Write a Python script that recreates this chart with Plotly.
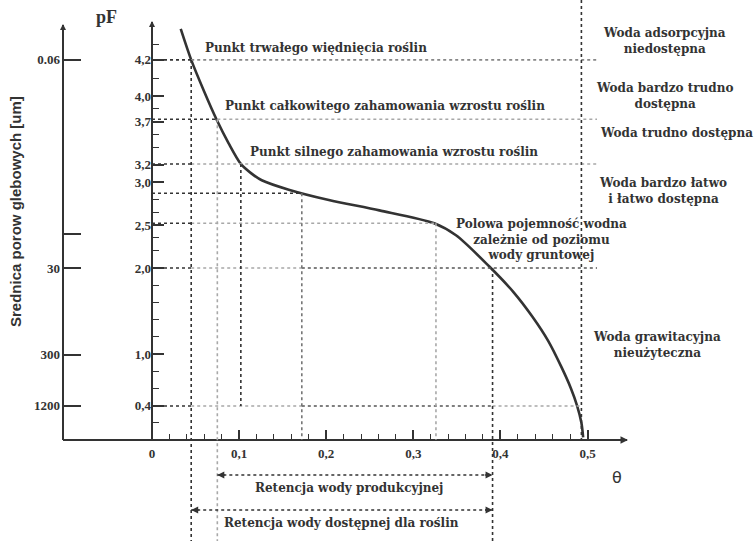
import plotly.graph_objects as go

# ---------------- data ----------------
# retention curve: theta (volumetric water content) vs pF (linear scale of picture)
curve_theta = [0.033, 0.045, 0.060, 0.074, 0.088, 0.102, 0.114, 0.126, 0.157, 0.203,
               0.261, 0.324, 0.349, 0.387, 0.415, 0.437, 0.455, 0.470, 0.481, 0.488, 0.493, 0.495]
curve_pf = [4.78, 4.42, 4.05, 3.73, 3.45, 3.21, 3.10, 3.02, 2.91, 2.79,
            2.67, 2.52, 2.38, 2.02, 1.72, 1.43, 1.15, 0.85, 0.60, 0.40, 0.20, 0.03]

# pF axis ticks
pf_tick_vals = [0.4, 1.0, 2.0, 2.5, 3.0, 3.2, 3.7, 4.0, 4.42]
pf_tick_text = ["0,4", "1,0", "2,0", "2,5", "3,0", "3,2", "3,7", "4,0", "4,2"]
pf_minor = [0.2, 0.6, 0.8, 1.2, 1.4, 1.6, 1.8, 2.2, 2.35, 2.65, 2.8, 3.4, 3.55, 3.85, 4.2, 4.6]

# pore diameter axis ticks
pore_tick_vals = [4.42, 2.40, 2.0, 0.99, 0.4]
pore_tick_text = ["0.06", "", "30", "300", "1200"]

# theta axis ticks
theta_tick_vals = [0, 0.1, 0.2, 0.3, 0.4, 0.5]
theta_tick_text = ["0", "0,1", "0,2", "0,3", "0,4", "0,5"]
theta_minor = [0.02, 0.04, 0.06, 0.08, 0.12, 0.14, 0.16, 0.18, 0.22, 0.24, 0.26, 0.28,
               0.32, 0.34, 0.36, 0.38, 0.42, 0.44, 0.46, 0.48]

# characteristic levels (pF) and water contents (theta)
pf_wilt, pf_total, pf_strong, pf_bend, pf_field, pf_fc, pf_low = 4.42, 3.73, 3.21, 2.87, 2.52, 2.0, 0.395
th_wilt, th_total, th_strong, th_bend, th_field, th_fc, th_sat = 0.045, 0.075, 0.102, 0.172, 0.326, 0.391, 0.493

# ---------------- geometry helpers (pixel -> axis/paper) ----------------
W, H = 754, 541
X0, XS = 152, 871       # px of theta=0, px per unit theta
Y0, YS = 440, 86        # px of pF=0, px per unit pF


def tx(px):
    return (px - X0) / XS


def ty(py):
    return (Y0 - py) / YS


def paper_x(px):
    return px / W


def paper_y(py):
    return (H - py) / H


INK = "#333333"
GRAY = "#a8a8a8"
FONT = "DejaVu Serif"

fig = go.Figure()

fig.add_trace(go.Scatter(x=curve_theta, y=curve_pf, mode="lines",
                         line=dict(color=INK, width=2.6, shape="spline", smoothing=0.8),
                         hoverinfo="skip", showlegend=False))
# dummy trace to activate second y axis
fig.add_trace(go.Scatter(x=[None], y=[None], yaxis="y2", showlegend=False))

shapes = []


def seg(x0, y0, x1, y1, color=INK, dash="3px,3px", width=1.6):
    shapes.append(dict(type="line", xref="x", yref="y", x0=x0, y0=y0, x1=x1, y1=y1,
                       line=dict(color=color, width=width, dash=dash)))


x_left_axis = tx(63)
x_right = tx(597)
y_bottom = ty(541)
y_top = ty(0)

# axis lines
seg(0, 0, 0, ty(22), dash="solid", width=2)
seg(x_left_axis, 0, x_left_axis, ty(25), dash="solid", width=2)
seg(x_left_axis, 0, tx(627), 0, dash="solid", width=2)

# horizontal guide lines
seg(0, pf_wilt, th_wilt, pf_wilt)
seg(th_wilt, pf_wilt, x_right, pf_wilt, color="#888888")
seg(0, pf_total, th_total, pf_total)
seg(th_total, pf_total, x_right, pf_total, color=GRAY)
seg(0, pf_strong, th_wilt, pf_strong)
seg(th_wilt, pf_strong, x_right, pf_strong, color=GRAY)
seg(0, pf_bend, th_bend, pf_bend)
seg(0, pf_field, th_wilt, pf_field)
seg(th_wilt, pf_field, th_field, pf_field, color=GRAY)
seg(0, pf_fc, th_wilt, pf_fc)
seg(th_wilt, pf_fc, th_bend, pf_fc, color=GRAY)
seg(th_bend, pf_fc, x_right, pf_fc, color="#555555")
seg(0, pf_low, th_wilt, pf_low)
seg(th_wilt, pf_low, th_bend, pf_low, color=GRAY)
seg(th_bend, pf_low, th_fc, pf_low, color="#555555")
seg(th_fc, pf_low, th_sat, pf_low, color=GRAY)

# vertical guide lines
seg(th_wilt, pf_wilt, th_wilt, y_bottom)
seg(th_total, pf_total, th_total, y_bottom, color=GRAY)
seg(th_strong, pf_strong, th_strong, pf_low)
seg(th_bend, pf_bend, th_bend, 0, color="#777777")
seg(th_field, pf_field, th_field, 0, color=GRAY)
seg(th_fc, pf_fc, th_fc, y_bottom)
seg(th_sat, y_top, th_sat, 0)

# retention brackets
y_prod = ty(475)
y_avail = ty(510)
seg(th_total, y_prod, th_fc, y_prod)
seg(th_wilt, y_avail, th_fc, y_avail)

annotations = []


def arrow(x, y, ax):
    annotations.append(dict(x=x, y=y, xref="x", yref="y", text="", showarrow=True,
                            ax=ax, ay=0, arrowhead=2, arrowsize=1, arrowwidth=1.4,
                            arrowcolor=INK))


arrow(th_total, y_prod, 9)
arrow(th_fc, y_prod, -9)
arrow(th_wilt, y_avail, 9)
arrow(th_fc, y_avail, -9)
# axis arrowheads
annotations.append(dict(x=tx(628), y=0, xref="x", yref="y", text="", showarrow=True,
                        ax=-8, ay=0, arrowhead=2, arrowsize=1, arrowwidth=1.5, arrowcolor=INK))
annotations.append(dict(x=0, y=ty(21), xref="x", yref="y", text="", showarrow=True,
                        ax=0, ay=7, arrowhead=2, arrowsize=0.8, arrowwidth=1.5, arrowcolor=INK))
annotations.append(dict(x=x_left_axis, y=ty(24), xref="x", yref="y", text="", showarrow=True,
                        ax=0, ay=7, arrowhead=2, arrowsize=0.8, arrowwidth=1.5, arrowcolor=INK))


def label(px, py, text, size=12, xanchor="center", angle=0, color=INK, family=FONT):
    annotations.append(dict(x=paper_x(px), y=paper_y(py), xref="paper", yref="paper",
                            text=text, showarrow=False, xanchor=xanchor, yanchor="middle",
                            align="center", textangle=angle,
                            font=dict(family=family, size=size, color=color)))


label(203, 48, "<b>Punkt trwałego więdnięcia roślin</b>", xanchor="left")
label(223, 106, "<b>Punkt całkowitego zahamowania wzrostu roślin</b>", xanchor="left")
label(248, 152, "<b>Punkt silnego zahamowania wzrostu roślin</b>", xanchor="left")
label(664, 41, "<b>Woda adsorpcyjna<br>niedostępna</b>")
label(664, 96, "<b>Woda bardzo trudno<br>dostępna</b>")
label(676, 133, "<b>Woda trudno dostępna</b>")
label(663, 191, "<b>Woda bardzo łatwo<br>i łatwo dostępna</b>")
label(541, 239, "<b>Polowa pojemność wodna<br>zależnie od poziomu<br>wody gruntowej</b>")
label(657, 345, "<b>Woda grawitacyjna<br>nieużyteczna</b>")
label(349, 488, "<b>Retencja wody produkcyjnej</b>")
label(341, 523, "<b>Retencja wody dostępnej dla roślin</b>")
label(107, 17, "<b>pF</b>", size=18, family="Liberation Serif")
label(617, 477, "θ", size=16, family="DejaVu Sans")
label(16, 212, "<b>Srednica porow glebowych [um]</b>", size=15, angle=-90,
      family="Liberation Sans Narrow, Liberation Sans")

tick_font = dict(family="Liberation Serif", size=13, color=INK)

fig.update_layout(
    width=W, height=H,
    margin=dict(l=0, r=0, t=0, b=0, autoexpand=False),
    paper_bgcolor="white", plot_bgcolor="white",
    showlegend=False,
    shapes=shapes,
    annotations=annotations,
    xaxis=dict(domain=[0, 1], range=[tx(0), tx(W)], anchor="free", position=paper_y(Y0),
               automargin=False,
               showgrid=False, zeroline=False, showline=False,
               tickmode="array", tickvals=theta_tick_vals, ticktext=[f"<b>{t}</b>" for t in theta_tick_text],
               ticks="inside", ticklen=10, tickwidth=1.6, tickcolor=INK,
               tickfont=tick_font, ticklabelstandoff=4,
               minor=dict(tickvals=theta_minor, ticks="inside", ticklen=6, tickwidth=1.4,
                          tickcolor=INK, showgrid=False)),
    yaxis=dict(domain=[0, 1], range=[ty(H), ty(0)], anchor="free", position=paper_x(X0),
               automargin=False,
               side="left", showgrid=False, zeroline=False, showline=False,
               tickmode="array", tickvals=pf_tick_vals, ticktext=[f"<b>{t}</b>" for t in pf_tick_text],
               ticks="inside", ticklen=11, tickwidth=1.8, tickcolor=INK,
               tickfont=tick_font, ticklabelstandoff=1,
               minor=dict(tickvals=pf_minor, ticks="inside", ticklen=6, tickwidth=1.4,
                          tickcolor=INK, showgrid=False)),
    yaxis2=dict(overlaying="y", range=[ty(H), ty(0)], anchor="free", position=paper_x(63),
                automargin=False,
                side="left", showgrid=False, zeroline=False, showline=False,
                tickmode="array", tickvals=pore_tick_vals, ticktext=[f"<b>{t}</b>" for t in pore_tick_text],
                ticks="inside", ticklen=17, tickwidth=1.8, tickcolor=INK,
                tickfont=tick_font, ticklabelstandoff=3),
)

fig.write_html("out.html")
